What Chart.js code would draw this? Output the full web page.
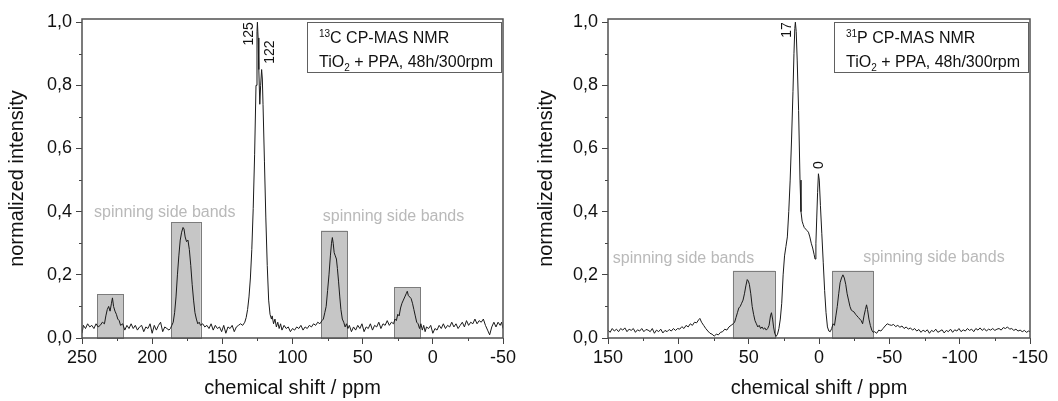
<!DOCTYPE html>
<html lang="en">
<head>
<meta charset="UTF-8">
<title>CP-MAS NMR</title>
<script src="https://cdn.jsdelivr.net/npm/chart.js"></script>
<style>
    body { margin: 0; background: #fff; }
    #wrap { position: relative; width: 1058px; height: 401px; }
    canvas { position: absolute; top: 0; }
</style>
</head>
<body>
<div id="wrap">
    <canvas id="chartC13" width="529" height="401" style="left:0"></canvas>
    <canvas id="chartP31" width="529" height="401" style="left:529px"></canvas>
</div>
<script>
// 13C spectrum (chemical shift in ppm, normalized intensity)
const c13Shift = [
    250, 249, 247.5, 246, 244.5, 243, 241.5, 240, 238.5, 237,
    235.5, 234, 233, 232, 231, 230, 229, 228.3, 227.5, 226.5,
    225.5, 224.5, 223.5, 222.5, 221, 219.5, 218, 216.5, 215, 213.5,
    212, 210.5, 209, 207.5, 206, 204.5, 203, 201.5, 200, 198.5,
    197, 195.5, 194, 192.5, 191, 189.5, 188, 187, 186, 185,
    184, 183, 182, 181, 180, 179, 178, 177.3, 176.5, 175.5,
    174.5, 173.5, 172.5, 171.5, 170.5, 169.5, 168.5, 167.5, 166.5, 165.5,
    164, 162.5, 161, 159.5, 158, 156.5, 155, 153.5, 152, 150.5,
    149, 147.5, 146, 144.5, 143, 141.5, 140, 138.5, 137, 135.5,
    134, 133, 132, 131, 130, 129, 128, 127, 126, 125.3,
    125, 124.5, 124, 123.3, 122.7, 122, 121.5, 121, 120, 119,
    118, 117, 116, 115, 114.5, 113.5, 112.5, 111.5, 110.5, 109.5,
    108.5, 107.5, 106, 104.5, 103, 101.5, 100, 98.5, 97, 95.5,
    94, 92.5, 91, 89.5, 88, 86.5, 85, 83.5, 82, 80.5,
    79, 78, 77, 76, 75, 74, 73, 72.2, 71.6, 71,
    70.3, 69.5, 68.7, 68, 67.2, 66.3, 65.5, 64.5, 63.5, 62.5,
    61.5, 60.5, 59.5, 58, 56.5, 55, 53.5, 52, 50.5, 49,
    47.5, 46, 44.5, 43, 41.5, 40, 38.5, 37, 35.5, 34,
    32.5, 31, 29.5, 28, 27, 26, 25, 24, 23, 22,
    21, 20, 19, 18.2, 17.5, 16.5, 15.5, 14.5, 13.5, 12.5,
    11.5, 10.5, 9.5, 8.5, 7.5, 6.5, 5.5, 4.5, 3, 1.5,
    0, -1.5, -3, -4.5, -6, -7.5, -9, -10.5, -12, -13.5,
    -15, -16.5, -18, -19.5, -21, -22.5, -24, -25.5, -27, -28.5,
    -30, -31.5, -33, -34.5, -36, -37.5, -39, -40.5, -42, -43.5,
    -45, -46.5, -48, -49, -50
];
const c13Intensity = [
    0.015, 0.04, 0.03, 0.045, 0.035, 0.04, 0.03, 0.045, 0.035, 0.04,
    0.05, 0.045, 0.07, 0.09, 0.1, 0.085, 0.11, 0.127, 0.1, 0.085,
    0.075, 0.06, 0.055, 0.04, 0.045, 0.025, 0.04, 0.03, 0.045, 0.03,
    0.04, 0.025, 0.035, 0.04, 0.02, 0.035, 0.03, 0.045, 0.015, 0.04,
    0.025, 0.04, 0.05, 0.02, 0.035, 0.03, 0.025, 0.03, 0.04, 0.05,
    0.08, 0.13, 0.2, 0.26, 0.31, 0.335, 0.35, 0.345, 0.32, 0.305,
    0.31, 0.28, 0.23, 0.17, 0.12, 0.08, 0.06, 0.045, 0.05, 0.04,
    0.045, 0.035, 0.04, 0.03, 0.045, 0.025, 0.04, 0.03, 0.035, 0.02,
    0.04, 0.015, 0.035, 0.03, 0.04, 0.02, 0.035, 0.04, 0.045, 0.04,
    0.05, 0.065, 0.09, 0.13, 0.19, 0.28, 0.41, 0.58, 0.8, 0.97,
    1.0, 0.95, 0.85, 0.74, 0.8, 0.85, 0.82, 0.74, 0.56, 0.38,
    0.23, 0.12, 0.075, 0.06, 0.07, 0.045, 0.06, 0.035, 0.05, 0.03,
    0.045, 0.025, 0.04, 0.03, 0.035, 0.02, 0.03, 0.025, 0.035, 0.03,
    0.04, 0.025, 0.035, 0.03, 0.04, 0.035, 0.045, 0.04, 0.05, 0.045,
    0.055, 0.06, 0.08, 0.1, 0.15, 0.2, 0.26, 0.3, 0.318, 0.3,
    0.27, 0.26, 0.25, 0.22, 0.18, 0.13, 0.09, 0.06, 0.05, 0.035,
    0.045, 0.03, 0.04, 0.02, 0.035, 0.025, 0.04, 0.03, 0.045, 0.02,
    0.035, 0.03, 0.045, 0.025, 0.04, 0.035, 0.05, 0.03, 0.045, 0.04,
    0.055, 0.04, 0.05, 0.045, 0.06, 0.055, 0.075, 0.07, 0.095, 0.11,
    0.12, 0.13, 0.14, 0.148, 0.135, 0.13, 0.125, 0.11, 0.09, 0.07,
    0.05, 0.045, 0.03, 0.045, 0.025, 0.04, 0.02, 0.035, 0.03, 0.04,
    0.015, 0.03, 0.025, 0.04, 0.03, 0.045, 0.03, 0.04, 0.035, 0.05,
    0.035, 0.045, 0.03, 0.04, 0.05, 0.035, 0.055, 0.04, 0.05, 0.045,
    0.06, 0.045, 0.055, 0.05, 0.06, 0.04, 0.025, 0.01, 0.035, 0.05,
    0.035, 0.05, 0.04, 0.05, 0.03
];

// 31P spectrum
const p31Shift = [
    150, 148.5, 147, 145.5, 144, 142.5, 141, 139.5, 138, 136.5,
    135, 133.5, 132, 130.5, 129, 127.5, 126, 124.5, 123, 121.5,
    120, 118.5, 117, 115.5, 114, 112.5, 111, 109.5, 108, 106.5,
    105, 103.5, 102, 100.5, 99, 97.5, 96, 94.5, 93, 91.5,
    90, 88.5, 87, 85.5, 84.7, 83.5, 82, 80.5, 79, 77.5,
    76, 74.5, 73, 71.5, 70, 68.5, 67, 65.5, 64, 62.5,
    61, 60, 59, 58, 57, 56, 55, 54, 53, 52,
    51, 50.2, 49.5, 48.5, 47.5, 46.5, 45.5, 44.5, 43.5, 42.5,
    41.5, 40.5, 39.5, 38.5, 37.5, 36.5, 35.5, 34.5, 33.8, 33,
    32.3, 31.5, 30.5, 29.5, 28.5, 27.5, 26.5, 25.5, 24.5, 23.5,
    22.5, 21.5, 20.5, 19.5, 18.5, 17.8, 17.2, 16.8, 16.2, 15.5,
    14.5, 13.5, 12.8, 12, 11.3, 10.5, 9.5, 8.5, 7.5, 6.5,
    5.5, 4.5, 3.5, 2.8, 2.2, 1.6, 1, 0.4, -0.2, -1,
    -2, -3, -4, -5, -6, -7, -8, -9, -10, -11,
    -12, -13, -14, -15, -16, -17, -18, -19, -20, -21,
    -22, -23, -24, -25, -26, -27, -28, -29, -30, -31,
    -32, -33, -33.8, -34.5, -35.5, -36.5, -37.5, -38.5, -39.5, -41,
    -42.5, -44, -45.5, -47, -48.5, -50, -51.5, -53, -54.5, -56,
    -57.5, -59, -60.5, -62, -63.5, -65, -66.5, -68, -69.5, -71,
    -72.5, -74, -75.5, -77, -78.5, -80, -81.5, -83, -84.5, -86,
    -87.5, -89, -90.5, -92, -93.5, -95, -96.5, -98, -99.5, -101,
    -102.5, -104, -105.5, -107, -108.5, -110, -111.5, -113, -114.5, -116,
    -117.5, -119, -120.5, -122, -123.5, -125, -126.5, -128, -129.5, -131,
    -132.5, -134, -135.5, -137, -138.5, -140, -141.5, -143, -144.5, -146,
    -147.5, -149, -150
];
const p31Intensity = [
    0.025, 0.018, 0.03, 0.022, 0.028, 0.02, 0.03, 0.025, 0.032, 0.02,
    0.028, 0.024, 0.03, 0.018, 0.026, 0.022, 0.03, 0.02, 0.027, 0.025,
    0.02, 0.03, 0.015, 0.025, 0.02, 0.028, 0.016, 0.024, 0.02, 0.027,
    0.022, 0.03, 0.024, 0.03, 0.028, 0.036, 0.03, 0.04, 0.035, 0.045,
    0.04, 0.05, 0.048, 0.058, 0.062, 0.05, 0.04, 0.03, 0.022, 0.015,
    0.012, 0.006, 0.012, 0.01, 0.018, 0.02, 0.028, 0.025, 0.035, 0.04,
    0.045, 0.05, 0.065, 0.08, 0.095, 0.1, 0.11, 0.12, 0.14, 0.165,
    0.185, 0.18, 0.17, 0.14, 0.1, 0.075, 0.055, 0.045, 0.035, 0.04,
    0.03, 0.035, 0.028, 0.032, 0.025, 0.03, 0.04, 0.07, 0.08, 0.06,
    0.035, 0.015, 0.005, 0.012, 0.03, 0.06, 0.11, 0.2, 0.26, 0.29,
    0.32, 0.4, 0.5, 0.63, 0.78, 0.9, 0.98, 1.0, 0.97, 0.88,
    0.72, 0.5, 0.4, 0.37, 0.36, 0.35, 0.345, 0.34, 0.335, 0.32,
    0.3, 0.285, 0.265, 0.25, 0.3, 0.38, 0.46, 0.52, 0.5, 0.42,
    0.33, 0.24, 0.15, 0.08, 0.035, 0.022, 0.02, 0.03, 0.045, 0.04,
    0.07, 0.1, 0.14, 0.175, 0.19, 0.2, 0.19, 0.17, 0.14, 0.12,
    0.1, 0.088, 0.085, 0.082, 0.075, 0.07, 0.065, 0.06, 0.055, 0.045,
    0.07, 0.09, 0.105, 0.09, 0.06, 0.04, 0.025, 0.018, 0.02, 0.015,
    0.025, 0.022, 0.03, 0.038, 0.045, 0.042, 0.04, 0.043, 0.036, 0.04,
    0.034, 0.038, 0.03, 0.035, 0.028, 0.032, 0.025, 0.03, 0.022, 0.027,
    0.018, 0.025, 0.02, 0.026, 0.015, 0.024, 0.02, 0.028, 0.018, 0.022,
    0.026, 0.016, 0.024, 0.02, 0.028, 0.018, 0.026, 0.022, 0.03, 0.02,
    0.026, 0.022, 0.03, 0.024, 0.028, 0.02, 0.03, 0.025, 0.032, 0.024,
    0.03, 0.022, 0.028, 0.025, 0.03, 0.024, 0.028, 0.03, 0.025, 0.033,
    0.03, 0.035, 0.028, 0.03, 0.024, 0.028, 0.022, 0.025, 0.02, 0.024,
    0.018, 0.022, 0.02
];

// tick labels
const c13Ticks = [250, 200, 150, 100, 50, 0, -50];
const p31Ticks = [150, 100, 50, 0, -50, -100, -150];
const yTicks = [0, 0.2, 0.4, 0.6, 0.8, 1.0];

// spinning side band boxes: [from ppm, to ppm, height]
const c13Bands = [[239.3, 220.8, 0.138], [186.6, 165.4, 0.366], [79.7, 60.9, 0.34], [27.4, 8.9, 0.16]];
const p31Bands = [[61.2, 31.3, 0.213], [-9.4, -38.6, 0.213]];

// "spinning side bands" captions: [ppm, intensity]
const c13BandText = [[191, 0.398], [28, 0.383]];
const p31BandText = [[96.3, 0.25], [-81.7, 0.253]];

// peak labels
const c13Peaks = [
    { text: '125', x: 125, y: 1.0, side: 'left' },
    { text: '122', x: 122, y: 0.942, side: 'right' }
];
const p31Peaks = [
    { text: '17', x: 17, y: 1.0, side: 'left' },
    { text: '0', x: 0, y: 0.535, side: 'above' }
];

const FONT = '"Liberation Sans", Arial, sans-serif';

function makePlugin(bands, bandText, peaks, nucleus, minorX) {
    return {
        id: 'extras',
        beforeDatasetsDraw(chart) {
            const { ctx, scales: { x, y } } = chart;
            ctx.save();
            bands.forEach(b => {
                const x1 = x.getPixelForValue(b[0]);
                const x2 = x.getPixelForValue(b[1]);
                const yt = y.getPixelForValue(b[2]);
                const yb = y.getPixelForValue(0);
                ctx.fillStyle = '#c6c6c6';
                ctx.fillRect(x1, yt, x2 - x1, yb - yt);
                ctx.strokeStyle = '#7c7c7c';
                ctx.lineWidth = 1;
                ctx.strokeRect(Math.round(x1) + 0.5, Math.round(yt) + 0.5, Math.round(x2 - x1), Math.round(yb - yt));
            });
            ctx.restore();
        },
        afterDraw(chart) {
            const { ctx, chartArea: a, scales: { x, y } } = chart;
            ctx.save();

            // minor ticks
            ctx.strokeStyle = '#444';
            ctx.lineWidth = 1;
            ctx.beginPath();
            for (let v = 0.1; v < 1.0; v += 0.2) {
                const py = Math.round(y.getPixelForValue(v)) + 0.5;
                ctx.moveTo(a.left - 3, py); ctx.lineTo(a.left, py);
            }
            minorX.forEach(v => {
                const px = Math.round(x.getPixelForValue(v)) + 0.5;
                ctx.moveTo(px, a.bottom); ctx.lineTo(px, a.bottom + 3);
            });
            ctx.stroke();

            // frame
            ctx.strokeStyle = '#505050';
            ctx.lineWidth = 1.5;
            ctx.strokeRect(a.left, a.top, a.right - a.left, a.bottom - a.top);

            // band captions
            ctx.fillStyle = '#b9b9b9';
            ctx.font = '16px ' + FONT;
            ctx.textAlign = 'center';
            ctx.textBaseline = 'middle';
            bandText.forEach(t => {
                ctx.fillText('spinning side bands', x.getPixelForValue(t[0]), y.getPixelForValue(t[1]));
            });

            // peak labels, rotated
            ctx.fillStyle = '#111';
            ctx.font = '14px ' + FONT;
            peaks.forEach(p => {
                const px = x.getPixelForValue(p.x);
                const py = y.getPixelForValue(p.y);
                ctx.save();
                ctx.translate(p.side === 'left' ? px - 1 : p.side === 'right' ? px + 2 : px, py);
                ctx.rotate(-Math.PI / 2);
                if (p.side === 'above') {
                    ctx.textAlign = 'left';
                    ctx.textBaseline = 'middle';
                } else {
                    ctx.textAlign = 'right';
                    ctx.textBaseline = p.side === 'left' ? 'bottom' : 'top';
                }
                ctx.fillText(p.text, 0, 0);
                ctx.restore();
            });

            // info box
            const bx = a.right - 196, by = a.top + 3, bw = 194, bh = 50;
            ctx.fillStyle = '#fff';
            ctx.fillRect(bx, by, bw, bh);
            ctx.strokeStyle = '#606060';
            ctx.lineWidth = 1;
            ctx.strokeRect(Math.round(bx) + 0.5, Math.round(by) + 0.5, bw, bh);
            ctx.fillStyle = '#111';
            ctx.textAlign = 'left';
            ctx.textBaseline = 'alphabetic';
            let tx = bx + 12;
            ctx.font = '10px ' + FONT;
            ctx.fillText(nucleus[0], tx, by + 15);
            tx += ctx.measureText(nucleus[0]).width;
            ctx.font = '16px ' + FONT;
            ctx.fillText(nucleus[1] + ' CP-MAS NMR', tx, by + 21);
            tx = bx + 12;
            ctx.fillText('TiO', tx, by + 45);
            tx += ctx.measureText('TiO').width;
            ctx.font = '10px ' + FONT;
            ctx.fillText('2', tx, by + 49);
            tx += ctx.measureText('2').width;
            ctx.font = '16px ' + FONT;
            ctx.fillText(' + PPA, 48h/300rpm', tx, by + 45);
            ctx.restore();
        }
    };
}

function makeChart(id, shift, intensity, xMin, xMax, xTicks, yAxisWidth, padRight, plugin) {
    const points = shift.map((s, i) => ({ x: s, y: intensity[i] }));
    return new Chart(document.getElementById(id), {
        type: 'line',
        data: {
            datasets: [{
                data: points,
                borderColor: '#1a1a1a',
                borderWidth: 1,
                pointRadius: 0,
                tension: 0,
                fill: false
            }]
        },
        options: {
            responsive: false,
            animation: false,
            layout: { padding: { top: 19, right: padRight, left: 0, bottom: 0 } },
            plugins: { legend: { display: false }, tooltip: { enabled: false } },
            scales: {
                x: {
                    type: 'linear',
                    reverse: true,
                    min: xMin,
                    max: xMax,
                    afterBuildTicks: s => { s.ticks = xTicks.map(v => ({ value: v })); },
                    afterFit: s => { s.height = 63; },
                    grid: { drawOnChartArea: false, drawTicks: true, tickLength: 6, tickColor: '#444' },
                    border: { display: false },
                    ticks: {
                        autoSkip: false,
                        maxRotation: 0,
                        padding: 3,
                        color: '#111',
                        font: { family: FONT, size: 18 },
                        callback: v => String(v)
                    },
                    title: {
                        display: true,
                        text: 'chemical shift / ppm',
                        color: '#111',
                        font: { family: FONT, size: 20 },
                        padding: { top: 0, bottom: 1 }
                    }
                },
                y: {
                    min: 0,
                    max: 1.01,
                    afterBuildTicks: s => { s.ticks = yTicks.map(v => ({ value: v })); },
                    afterFit: s => { s.width = yAxisWidth; },
                    grid: { drawOnChartArea: false, drawTicks: true, tickLength: 6, tickColor: '#444' },
                    border: { display: false },
                    ticks: {
                        padding: 4,
                        color: '#111',
                        font: { family: FONT, size: 18 },
                        callback: v => v.toFixed(1).replace('.', ',')
                    },
                    title: {
                        display: true,
                        text: 'normalized intensity',
                        color: '#111',
                        font: { family: FONT, size: 20 },
                        padding: { top: 5, bottom: 0 }
                    }
                }
            }
        },
        plugins: [plugin]
    });
}

makeChart('chartC13', c13Shift, c13Intensity, -50, 250, c13Ticks, 82, 26,
    makePlugin(c13Bands, c13BandText, c13Peaks, ['13', 'C'], [225, 175, 125, 75, 25, -25]));
makeChart('chartP31', p31Shift, p31Intensity, -150, 150, p31Ticks, 79, 28,
    makePlugin(p31Bands, p31BandText, p31Peaks, ['31', 'P'], [125, 75, 25, -25, -75, -125]));
</script>
</body>
</html>
